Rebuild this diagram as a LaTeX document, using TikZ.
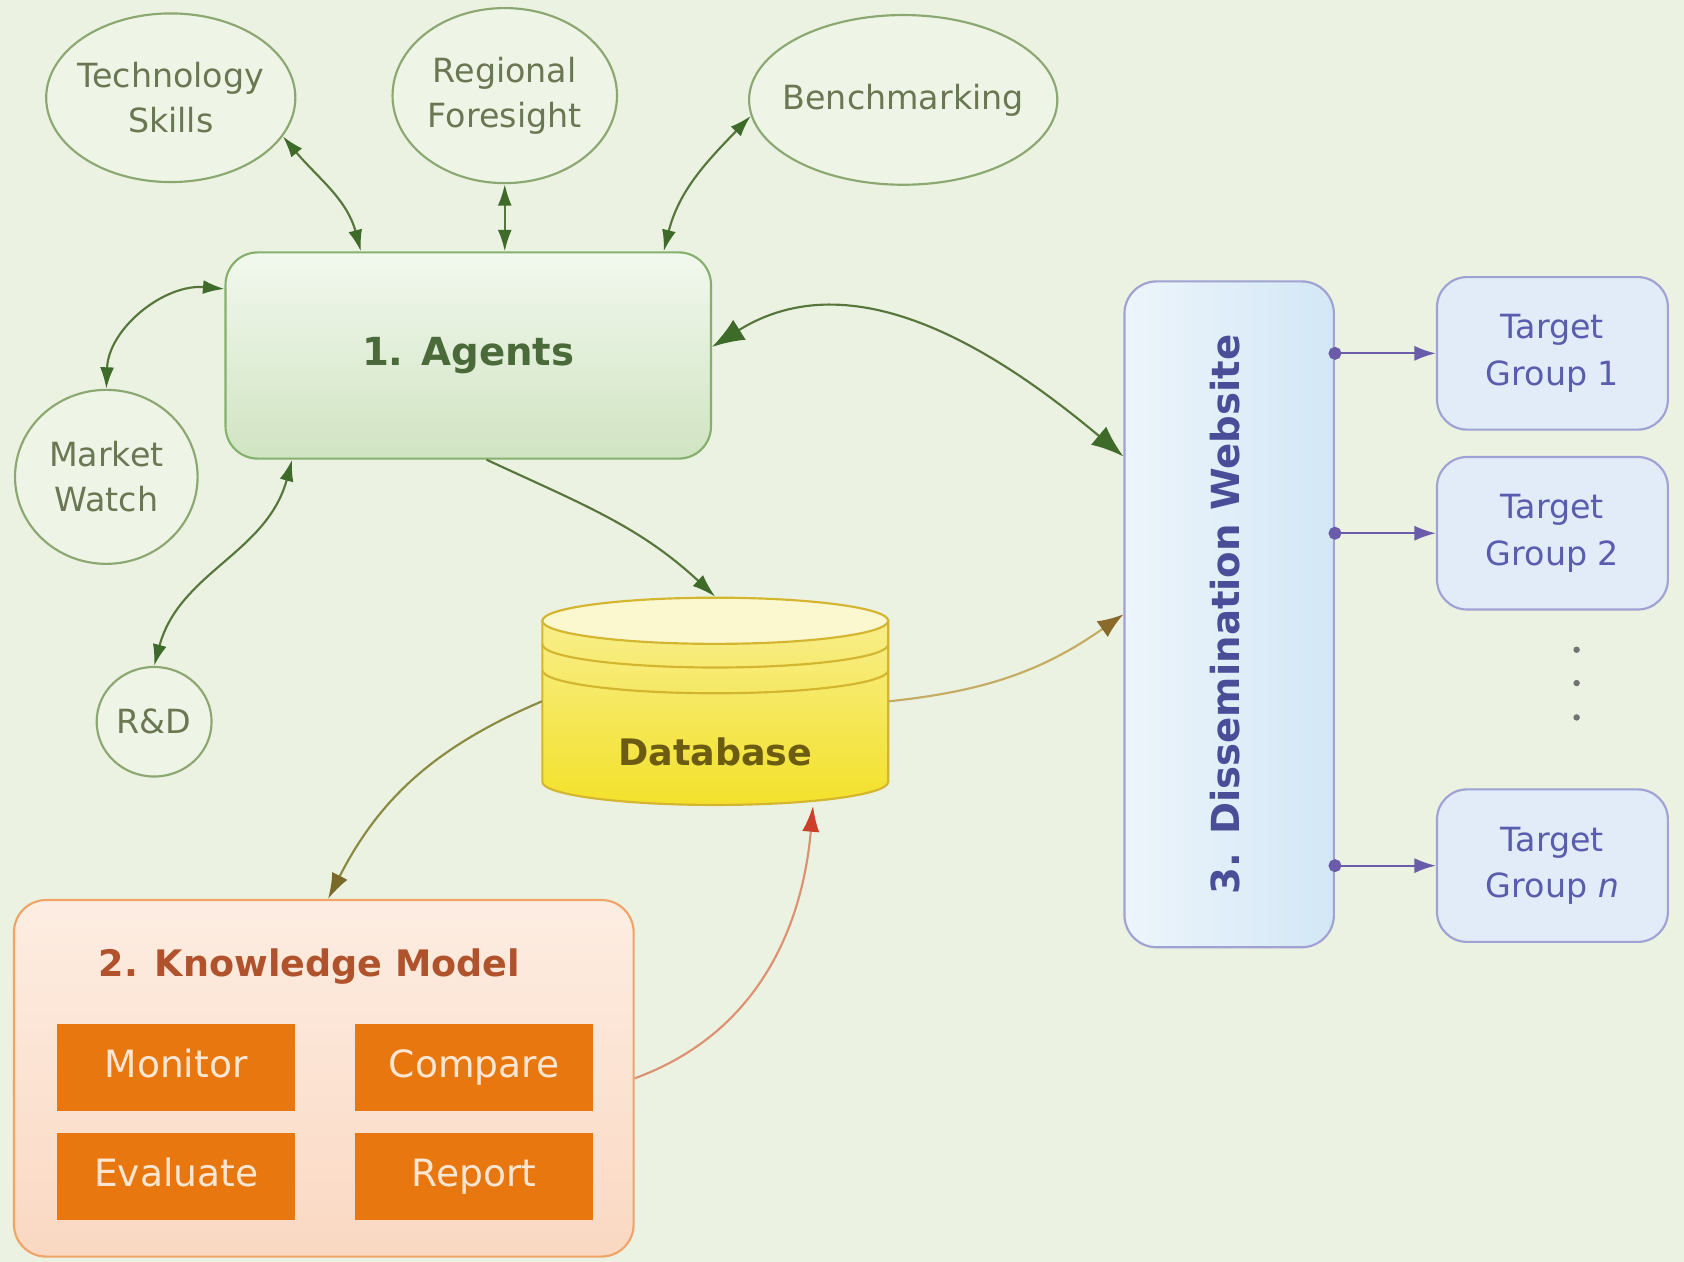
\documentclass[tikz,border=0pt]{standalone}
\usepackage{fontspec}
\setmainfont{DejaVu Sans}
\usetikzlibrary{arrows.meta,shapes.geometric}
\definecolor{bg}{HTML}{EBF2E1}
\definecolor{ellline}{HTML}{8CA872}
\definecolor{ellfill}{HTML}{EEF5E6}
\definecolor{elltext}{HTML}{6B7752}
\definecolor{gline}{HTML}{56763C}
\definecolor{gtip}{HTML}{3E6A2A}
\definecolor{agtop}{HTML}{F2F8EE}
\definecolor{agbot}{HTML}{D0E4C2}
\definecolor{agline}{HTML}{86B06E}
\definecolor{agtext}{HTML}{4B6A3A}
\definecolor{dbline}{HTML}{D4B530}
\definecolor{dbtop}{HTML}{F8EE8A}
\definecolor{dbbot}{HTML}{F3E12A}
\definecolor{dbcap}{HTML}{FBF7CF}
\definecolor{dbtext}{HTML}{6B5C12}
\definecolor{dissl}{HTML}{EDF5FB}
\definecolor{dissr}{HTML}{D3E7F6}
\definecolor{bline}{HTML}{A0A2D4}
\definecolor{disstext}{HTML}{4A4E98}
\definecolor{tgfill}{HTML}{E1ECF8}
\definecolor{tgtext}{HTML}{5A5CAE}
\definecolor{parrow}{HTML}{6A5CAA}
\definecolor{kmtop}{HTML}{FDEDE2}
\definecolor{kmbot}{HTML}{FAD8C2}
\definecolor{kmline}{HTML}{F0A468}
\definecolor{kmtext}{HTML}{B0532C}
\definecolor{orangebox}{HTML}{E8770F}
\definecolor{orangetext}{HTML}{FCE6D2}
\definecolor{oliveline}{HTML}{8C8A42}
\definecolor{olivetip}{HTML}{7A6A28}
\definecolor{tanline}{HTML}{C4AC62}
\definecolor{browntip}{HTML}{8A6A2A}
\definecolor{redline}{HTML}{DC9272}
\definecolor{redtip}{HTML}{CC3F2A}
\tikzset{
  ellnode/.style={ellipse, draw=ellline, line width=1pt, fill=ellfill, text=elltext,
    align=center, inner xsep=-12pt, inner ysep=0pt, font=\fontsize{15.5}{21}\selectfont},
  agentbox/.style={rectangle, rounded corners=15pt, draw=agline, line width=1pt,
    top color=agtop, bottom color=agbot, text=agtext, font=\bfseries\fontsize{18}{22}\selectfont},
  dissbox/.style={rectangle, rounded corners=15pt, draw=bline, line width=1pt,
    left color=dissl, right color=dissr},
  tgbox/.style={rectangle, rounded corners=14pt, draw=bline, line width=1pt, fill=tgfill,
    text=tgtext, align=center, font=\fontsize{15.5}{21.5}\selectfont,
    minimum width=107.5pt, minimum height=71pt},
  kmbox/.style={rectangle, rounded corners=15pt, draw=kmline, line width=1pt,
    top color=kmtop, bottom color=kmbot},
  kmtitle/.style={text=kmtext, font=\bfseries\fontsize{17}{21}\selectfont},
  obox/.style={rectangle, fill=orangebox, text=orangetext, font=\fontsize{17.5}{21}\selectfont,
    minimum width=111pt, minimum height=40.5pt, inner sep=0pt, text height=13pt, text depth=3.5pt},
  conn/.style={draw=gline, line width=1pt},
  gtipb/.style={{Latex[length=10pt,width=6.5pt,color=gtip]}-{Latex[length=10pt,width=6.5pt,color=gtip]}},
  bigtips/.style={{Latex[length=15pt,width=11pt,color=gtip]}-{Latex[length=15pt,width=11pt,color=gtip]}},
  parr/.style={draw=parrow, line width=1pt, shorten <=-3pt,
    {Circle[length=6pt,color=parrow]}-{Latex[length=10pt,width=7pt,color=parrow]}},
}
\begin{document}
\begin{tikzpicture}[x=0.5pt,y=0.5pt]
\fill[bg] (0,0) rectangle (1568,-1175);
\useasboundingbox (0,0) rectangle (1568,-1175);

% ellipses
\node[ellnode, minimum width=116pt, minimum height=78.5pt] (tech) at (159,-91) {Technology\\Skills};
\node[ellnode, minimum width=104.5pt, minimum height=81.5pt] (reg) at (470,-89) {Regional\\Foresight};
\node[ellnode, minimum width=143.5pt, minimum height=79pt] (bench) at (841,-93) {Benchmarking};
\node[ellnode, minimum width=85pt, minimum height=81pt] (market) at (99,-444) {Market\\Watch};
\node[ellnode, minimum width=53.5pt, minimum height=51pt] (rd) at (143.5,-672) {R\&D};

% agents
\node[agentbox, minimum width=226pt, minimum height=96pt] (agents) at (436,-331) {1. Agents};

% database
\node[inner sep=0pt, minimum width=161pt, minimum height=97pt] (db) at (666,-653) {};
\path[top color=dbtop, bottom color=dbbot, draw=dbline, line width=1pt]
  (505,-578) -- (505,-728) arc[start angle=180, end angle=360, x radius=80.5pt, y radius=10.75pt]
  -- (827,-578) -- cycle;
\draw[fill=dbcap, draw=dbline, line width=1pt] (666,-578) ellipse[x radius=80.5pt, y radius=10.75pt];
\draw[dbline, line width=1pt] (505,-600) arc[start angle=180, end angle=360, x radius=80.5pt, y radius=10.75pt];
\draw[dbline, line width=1pt] (505,-624) arc[start angle=180, end angle=360, x radius=80.5pt, y radius=10.75pt];
\node[text=dbtext, font=\bfseries\fontsize{17}{21}\selectfont] (dblabel) at (666,-700) {Database};

% dissemination
\node[dissbox, minimum width=97.5pt, minimum height=310pt] (diss) at (1144.5,-572) {};
\node[rotate=90, text=disstext, font=\bfseries\fontsize{18}{22}\selectfont] (disslabel)
  at ([xshift=-2pt]diss.center) {3. Dissemination Website};

% target groups
\node[tgbox] (tg1) at (1445.5,-329) {Target\\Group 1};
\node[tgbox] (tg2) at (1445.5,-496.5) {Target\\Group 2};
\node[tgbox] (tgn) at (1445.5,-806) {Target\\Group \textit{n}};
\fill[black!55] (1468,-605) circle[radius=1.5pt];
\fill[black!55] (1468,-636) circle[radius=1.5pt];
\fill[black!55] (1468,-668) circle[radius=1.5pt];

% knowledge model
\node[kmbox, minimum width=288.5pt, minimum height=166pt] (km) at (301.5,-1004) {};
\node[kmtitle] (kmlabel) at (288,-900) {2. Knowledge Model};
\node[obox] (monitor) at (164,-993.5) {Monitor};
\node[obox] (compare) at (441.5,-993.5) {Compare};
\node[obox] (evaluate) at (164,-1095) {Evaluate};
\node[obox] (report) at (441.5,-1095) {Report};

% connectors
\draw[conn, gtipb] (tech.-19) to[out=-50,in=105] ([xshift=63.5pt]agents.north west);
\draw[conn, gtipb] (reg.south) -- (reg.south |- agents.north);
\draw[conn, gtipb] (bench.186) to[out=226,in=76] ([xshift=-22.5pt]agents.north east);
\draw[conn, gtipb] ([yshift=-17.5pt]agents.north west) to[out=175,in=88] (market.north);
\draw[conn, gtipb] ([xshift=31.5pt]agents.south west) to[out=-105,in=75] (rd.north);
\draw[conn, -{Latex[length=11pt,width=7pt,color=gtip]}] ([xshift=8.5pt]agents.south) to[out=-25,in=137] (db.north);
\draw[conn, bigtips] ([yshift=4pt]agents.east) to[out=32,in=140] ([yshift=73.5pt]diss.west);
\draw[draw=tanline, line width=1pt, -{Latex[length=12pt,width=9pt,color=browntip]}] (db.east) to[out=6,in=215] (diss.west);
\draw[draw=oliveline, line width=1pt, -{Latex[length=12pt,width=8pt,color=olivetip]}] (db.west) to[out=203,in=63] ([xshift=2pt]km.north);
\draw[draw=redline, line width=1pt, -{Latex[length=12pt,width=8pt,color=redtip]}] (km.east) to[out=20,in=-95] ([xshift=45.5pt]db.south);

\draw[parr] (tg1.west -| diss.east) -- (tg1.west);
\draw[parr] (tg2.west -| diss.east) -- (tg2.west);
\draw[parr] (tgn.west -| diss.east) -- (tgn.west);
\end{tikzpicture}
\end{document}
